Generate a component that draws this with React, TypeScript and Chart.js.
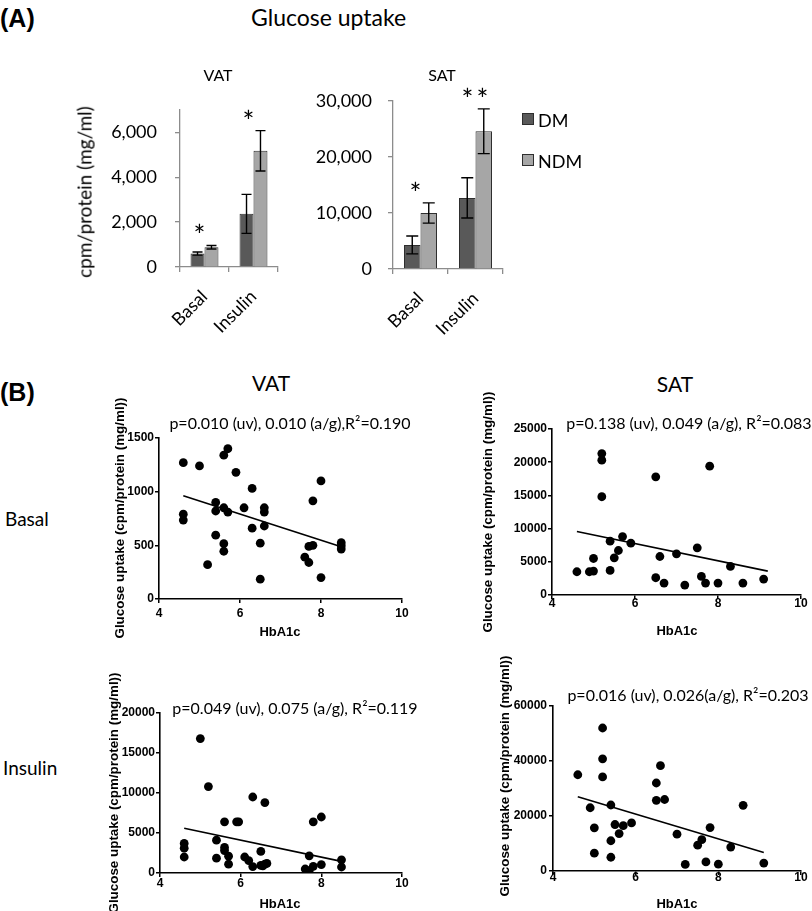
import React, { useEffect, useRef } from 'react';
import { Chart, registerables } from 'chart.js';

Chart.register(...registerables);

// ---------------- Panel A data ----------------
const barCategories = ['Basal', 'Insulin'];
const groupNames = ['DM', 'NDM'];

const vatDM = [600, 2370];
const vatDMErr = [70, 870];
const vatNDM = [880, 5180];
const vatNDMErr = [80, 900];
const vatStars = ['*', '*'];
const vatYTicks = [0, 2000, 4000, 6000];
const vatYMax = 7000;

const satDM = [4300, 12700];
const satDMErr = [1600, 3600];
const satNDM = [10000, 24600];
const satNDMErr = [1800, 4000];
const satStars = ['*', '**'];
const satYTicks = [0, 10000, 20000, 30000];
const satYMax = 30000;

// ---------------- Panel B data ----------------
const hbTicks = [4, 6, 8, 10];

const vatBasalX = [4.6, 5.0, 5.6, 5.7, 5.9, 6.3, 8.0, 7.8, 4.6, 4.6, 5.4, 5.4, 5.6, 5.7, 6.1, 6.6, 6.6, 6.6, 6.3, 5.4, 5.6, 5.6, 6.5, 5.2, 6.5, 7.7, 7.8, 7.6, 7.7, 8.0, 8.5, 8.5, 8.5];
const vatBasalY = [1270, 1240, 1340, 1400, 1180, 1030, 1100, 915, 790, 735, 900, 820, 850, 810, 850, 850, 810, 680, 660, 595, 515, 445, 520, 320, 185, 490, 500, 390, 340, 200, 525, 495, 465];
const vatBasalFitX = [4.6, 8.5];
const vatBasalFitY = [963, 487];
const vatBasalYTicks = [0, 500, 1000, 1500];
const vatBasalStats = 'p=0.010 (uv), 0.010 (a/g),R²=0.190';

const vatInsX = [5.0, 5.2, 6.3, 6.6, 5.6, 5.9, 5.95, 7.8, 8.0, 4.6, 4.6, 4.6, 5.4, 5.4, 5.6, 5.6, 5.7, 5.7, 6.1, 6.2, 6.3, 6.5, 6.5, 6.6, 6.55, 6.65, 7.7, 7.6, 7.7, 7.8, 8.0, 8.5, 8.5];
const vatInsY = [16800, 10800, 9500, 8800, 6400, 6400, 6400, 6400, 7000, 3700, 3100, 2000, 4100, 1850, 3200, 2800, 2100, 1100, 2000, 1550, 800, 2700, 950, 1100, 900, 1200, 2150, 500, 300, 830, 1050, 1650, 750];
const vatInsFitX = [4.6, 8.5];
const vatInsFitY = [5600, 1450];
const vatInsYTicks = [0, 5000, 10000, 15000, 20000];
const vatInsStats = 'p=0.049 (uv), 0.075 (a/g), R²=0.119';

const satBasalX = [4.6, 4.9, 5.0, 5.0, 5.2, 5.2, 5.2, 5.4, 5.4, 5.5, 5.6, 5.7, 5.9, 6.5, 6.5, 6.6, 6.7, 7.0, 7.2, 7.5, 7.6, 7.7, 7.8, 8.0, 8.3, 8.6, 9.1];
const satBasalY = [3500, 3500, 3600, 5500, 21300, 20300, 14800, 8100, 3700, 5600, 6700, 8800, 7800, 17800, 2600, 5800, 1800, 6200, 1500, 7100, 2800, 1800, 19400, 1800, 4300, 1800, 2400];
const satBasalFitX = [4.6, 9.2];
const satBasalFitY = [9550, 3600];
const satBasalYTicks = [0, 5000, 10000, 15000, 20000, 25000];
const satBasalStats = 'p=0.138 (uv), 0.049 (a/g), R²=0.083';

const satInsX = [4.6, 4.9, 5.0, 5.0, 5.2, 5.2, 5.2, 5.4, 5.4, 5.4, 5.5, 5.6, 5.7, 5.9, 6.5, 6.5, 6.6, 6.7, 7.0, 7.2, 7.5, 7.6, 7.7, 7.8, 8.0, 8.3, 8.6, 9.1];
const satInsY = [35000, 23000, 15700, 6500, 52000, 40800, 34200, 24000, 11000, 5000, 16900, 13600, 16500, 17500, 32000, 25700, 38300, 26000, 13400, 2400, 9400, 11400, 3300, 15800, 2500, 8700, 23900, 2900];
const satInsFitX = [4.6, 9.1];
const satInsFitY = [27000, 6700];
const satInsYTicks = [0, 20000, 40000, 60000];
const satInsStats = 'p=0.016 (uv), 0.026(a/g), R²=0.203';

// ---------------- styles ----------------
const CAL = 'Lato, "Open Sans", sans-serif';
const ARIAL = '"Liberation Sans", Arial, Helvetica, sans-serif';
const DM_FILL = '#595959';
const NDM_FILL = '#a6a6a6';
const BAR_EDGE = '#2e2e2e';
const AXIS_GRAY = '#8c8c8c';

type Rect = { l: number; t: number; r: number; b: number };

function BarChart(props: any) {
  const { rect, yMax, yTicks, dm, dmErr, ndm, ndmErr, stars, catPct, capW, yPad } = props;
  const ref = useRef<HTMLCanvasElement>(null);
  const YW = 110, XH = 80, PT = 32, PR = 12;
  const w = rect.r - rect.l + YW + PR;
  const h = rect.b - rect.t + PT + XH;
  useEffect(() => {
    const errs = [dmErr, ndmErr];
    const errPlugin = {
      id: 'errbars',
      afterDatasetsDraw(chart: any) {
        const ctx = chart.ctx;
        const ys = chart.scales.y;
        const xs = chart.scales.x;
        ctx.save();
        ctx.strokeStyle = '#000';
        ctx.lineWidth = 1.4;
        chart.data.datasets.forEach((ds: any, i: number) => {
          const meta = chart.getDatasetMeta(i);
          meta.data.forEach((bar: any, j: number) => {
            const v = ds.data[j];
            const e = errs[i][j];
            const y1 = ys.getPixelForValue(v + e);
            const y2 = ys.getPixelForValue(v - e);
            ctx.beginPath();
            ctx.moveTo(bar.x, y1);
            ctx.lineTo(bar.x, y2);
            ctx.moveTo(bar.x - capW / 2, y1);
            ctx.lineTo(bar.x + capW / 2, y1);
            ctx.moveTo(bar.x - capW / 2, y2);
            ctx.lineTo(bar.x + capW / 2, y2);
            ctx.stroke();
          });
        });
        ctx.fillStyle = '#000';
        ctx.font = `28px ${CAL}`;
        ctx.textAlign = 'center';
        ctx.textBaseline = 'middle';
        stars.forEach((s: string, j: number) => {
          const top = Math.max(dm[j] + dmErr[j], ndm[j] + ndmErr[j]);
          const x = xs.getPixelForValue(j) + (s.length > 1 ? 1 : -5);
          const y = ys.getPixelForValue(top) - 8;
          (ctx as any).letterSpacing = s.length > 1 ? '3px' : '0px';
          ctx.fillText(s, x, y);
        });
        ctx.restore();
      },
    };
    const chart = new Chart(ref.current as HTMLCanvasElement, {
      type: 'bar',
      data: {
        labels: barCategories,
        datasets: [
          { label: groupNames[0], data: dm, backgroundColor: DM_FILL, borderColor: BAR_EDGE, borderWidth: 1, categoryPercentage: catPct, barPercentage: 1 },
          { label: groupNames[1], data: ndm, backgroundColor: NDM_FILL, borderColor: BAR_EDGE, borderWidth: 1, categoryPercentage: catPct, barPercentage: 1 },
        ],
      },
      options: {
        animation: false,
        responsive: false,
        maintainAspectRatio: false,
        events: [],
        layout: { padding: { left: 0, right: PR, top: PT, bottom: 0 } },
        plugins: { legend: { display: false }, tooltip: { enabled: false } },
        scales: {
          x: {
            grid: { offset: true, drawOnChartArea: false, drawTicks: true, tickLength: 5, color: AXIS_GRAY, lineWidth: 1.3 },
            border: { display: true, color: AXIS_GRAY, width: 1.3 },
            ticks: { autoSkip: false, minRotation: 45, maxRotation: 45, padding: 14, color: '#000', font: { family: CAL, size: 18 } },
            afterFit: (s: any) => { s.height = XH; },
          },
          y: {
            min: 0,
            max: yMax,
            afterBuildTicks: (s: any) => { s.ticks = yTicks.map((v: number) => ({ value: v })); },
            grid: { drawOnChartArea: false, drawTicks: true, tickLength: 5, color: AXIS_GRAY, lineWidth: 1.3 },
            border: { display: true, color: AXIS_GRAY, width: 1.3 },
            ticks: { padding: yPad, color: '#000', font: { family: CAL, size: 18 }, callback: (v: any) => Number(v).toLocaleString('en-US') },
            afterFit: (s: any) => { s.width = YW; },
          },
        },
      } as any,
      plugins: [errPlugin],
    });
    return () => chart.destroy();
  }, []);
  return (
    <canvas
      ref={ref}
      width={w}
      height={h}
      style={{ position: 'absolute', left: rect.l - YW, top: rect.t - PT, width: w, height: h }}
    />
  );
}

function ScatterChart(props: any) {
  const { rect, xs, ys, fitX, fitY, yMax, yTicks, xPad, yPad } = props;
  const ref = useRef<HTMLCanvasElement>(null);
  const YW = 60, XH = 26, PT = 12, PR = 14;
  const w = rect.r - rect.l + YW + PR;
  const h = rect.b - rect.t + PT + XH;
  useEffect(() => {
    const pts = xs.map((x: number, i: number) => ({ x, y: ys[i] }));
    const fit = fitX.map((x: number, i: number) => ({ x, y: fitY[i] }));
    const tickFont = { family: ARIAL, size: 12, weight: 'bold' };
    const chart = new Chart(ref.current as HTMLCanvasElement, {
      type: 'scatter',
      data: {
        datasets: [
          { data: pts, pointRadius: 4.4, pointBackgroundColor: '#000', backgroundColor: '#000', borderColor: '#000', pointBorderWidth: 0, showLine: false },
          { data: fit, showLine: true, borderColor: '#000', borderWidth: 1.6, pointRadius: 0, fill: false },
        ],
      },
      options: {
        animation: false,
        responsive: false,
        maintainAspectRatio: false,
        events: [],
        layout: { padding: { left: 0, right: PR, top: PT, bottom: 0 } },
        plugins: { legend: { display: false }, tooltip: { enabled: false } },
        scales: {
          x: {
            type: 'linear',
            min: 4,
            max: 10,
            afterBuildTicks: (s: any) => { s.ticks = hbTicks.map((v) => ({ value: v })); },
            grid: { drawOnChartArea: false, drawTicks: true, tickLength: 4, color: '#000', lineWidth: 1.5 },
            border: { display: true, color: '#000', width: 1.6 },
            ticks: { padding: xPad, color: '#000', font: tickFont, callback: (v: any) => String(v) },
            afterFit: (s: any) => { s.height = XH; },
          },
          y: {
            type: 'linear',
            min: 0,
            max: yMax,
            afterBuildTicks: (s: any) => { s.ticks = yTicks.map((v: number) => ({ value: v })); },
            grid: { drawOnChartArea: false, drawTicks: true, tickLength: 4, color: '#000', lineWidth: 1.5 },
            border: { display: true, color: '#000', width: 1.6 },
            ticks: { padding: yPad, color: '#000', font: tickFont, callback: (v: any) => String(v) },
            afterFit: (s: any) => { s.width = YW; },
          },
        },
      } as any,
    });
    return () => chart.destroy();
  }, []);
  return (
    <canvas
      ref={ref}
      width={w}
      height={h}
      style={{ position: 'absolute', left: rect.l - YW, top: rect.t - PT, width: w, height: h }}
    />
  );
}

function Txt(props: any) {
  const { x, y, children, style, anchor, rotate } = props;
  let tr = 'translate(-50%,-50%)';
  if (anchor === 'left') tr = 'translate(0,-50%)';
  if (rotate) tr += ` rotate(${rotate}deg)`;
  return (
    <div
      style={{
        position: 'absolute',
        left: x,
        top: y,
        transform: tr,
        whiteSpace: 'nowrap',
        lineHeight: 1,
        color: '#000',
        ...style,
      }}
    >
      {children}
    </div>
  );
}

const vatBarRect: Rect = { l: 180, t: 110, r: 278, b: 267 };
const satBarRect: Rect = { l: 393, t: 101, r: 503, b: 269 };
const vatBasalRect: Rect = { l: 159, t: 438, r: 402, b: 599 };
const vatInsRect: Rect = { l: 160, t: 713, r: 402, b: 873 };
const satBasalRect: Rect = { l: 552, t: 429, r: 801, b: 595 };
const satInsRect: Rect = { l: 553, t: 706, r: 801, b: 871 };

export default function App() {
  const cal = (size: number) => ({ fontFamily: CAL, fontSize: size });
  const arialB = (size: number) => ({ fontFamily: ARIAL, fontSize: size, fontWeight: 700 });
  const yTitle = 'Glucose uptake (cpm/protein (mg/ml))';
  return (
    <div style={{ position: 'absolute', left: 0, top: 0, width: 812, height: 911, background: '#fff', overflow: 'hidden' }}>
      {/* Panel A */}
      <BarChart rect={vatBarRect} yMax={vatYMax} yTicks={vatYTicks} dm={vatDM} dmErr={vatDMErr} ndm={vatNDM} ndmErr={vatNDMErr} stars={vatStars} catPct={0.57} capW={10} yPad={18} />
      <BarChart rect={satBarRect} yMax={satYMax} yTicks={satYTicks} dm={satDM} dmErr={satDMErr} ndm={satNDM} ndmErr={satNDMErr} stars={satStars} catPct={0.6} capW={12} yPad={16} />

      <Txt x={0} y={18} anchor="left" style={arialB(25)}>(A)</Txt>
      <Txt x={251} y={17} anchor="left" style={cal(23)}>Glucose uptake</Txt>
      <Txt x={218} y={75} style={cal(16)}>VAT</Txt>
      <Txt x={442} y={75} style={cal(16)}>SAT</Txt>
      <Txt x={84} y={192} rotate={-90} style={cal(19)}>cpm/protein (mg/ml)</Txt>

      {/* legend */}
      <div style={{ position: 'absolute', left: 522, top: 113, width: 12, height: 12, background: DM_FILL, border: `1px solid ${BAR_EDGE}`, boxSizing: 'border-box' }} />
      <Txt x={538} y={120} anchor="left" style={cal(18)}>{groupNames[0]}</Txt>
      <div style={{ position: 'absolute', left: 522, top: 154, width: 12, height: 12, background: NDM_FILL, border: `1px solid ${BAR_EDGE}`, boxSizing: 'border-box' }} />
      <Txt x={538} y={161} anchor="left" style={cal(18)}>{groupNames[1]}</Txt>

      {/* Panel B */}
      <ScatterChart rect={vatBasalRect} xs={vatBasalX} ys={vatBasalY} fitX={vatBasalFitX} fitY={vatBasalFitY} yMax={1500} yTicks={vatBasalYTicks} xPad={3} yPad={1} />
      <ScatterChart rect={vatInsRect} xs={vatInsX} ys={vatInsY} fitX={vatInsFitX} fitY={vatInsFitY} yMax={20000} yTicks={vatInsYTicks} xPad={-1} yPad={1} />
      <ScatterChart rect={satBasalRect} xs={satBasalX} ys={satBasalY} fitX={satBasalFitX} fitY={satBasalFitY} yMax={25000} yTicks={satBasalYTicks} xPad={-3} yPad={1} />
      <ScatterChart rect={satInsRect} xs={satInsX} ys={satInsY} fitX={satInsFitX} fitY={satInsFitY} yMax={60000} yTicks={satInsYTicks} xPad={-5} yPad={2} />

      <Txt x={0} y={392} anchor="left" style={arialB(25)}>(B)</Txt>
      <Txt x={271} y={382} style={cal(21)}>VAT</Txt>
      <Txt x={675} y={383} style={cal(21)}>SAT</Txt>
      <Txt x={5} y={518} anchor="left" style={cal(19)}>Basal</Txt>
      <Txt x={3} y={767} anchor="left" style={cal(19)}>Insulin</Txt>

      <Txt x={290} y={423} style={cal(16)}>{vatBasalStats}</Txt>
      <Txt x={295} y={708} style={cal(16)}>{vatInsStats}</Txt>
      <Txt x={689} y={423} style={cal(16)}>{satBasalStats}</Txt>
      <Txt x={688} y={695} style={cal(16)}>{satInsStats}</Txt>

      <Txt x={120} y={518} rotate={-90} style={arialB(13.4)}>{yTitle}</Txt>
      <Txt x={114} y={793} rotate={-90} style={arialB(13.4)}>{yTitle}</Txt>
      <Txt x={488} y={512} rotate={-90} style={arialB(13.4)}>{yTitle}</Txt>
      <Txt x={505} y={776} rotate={-90} style={arialB(13.4)}>{yTitle}</Txt>

      <Txt x={280} y={631} style={arialB(13)}>HbA1c</Txt>
      <Txt x={280} y={903} style={arialB(13)}>HbA1c</Txt>
      <Txt x={677} y={630} style={arialB(13)}>HbA1c</Txt>
      <Txt x={677} y={903} style={arialB(13)}>HbA1c</Txt>
    </div>
  );
}
